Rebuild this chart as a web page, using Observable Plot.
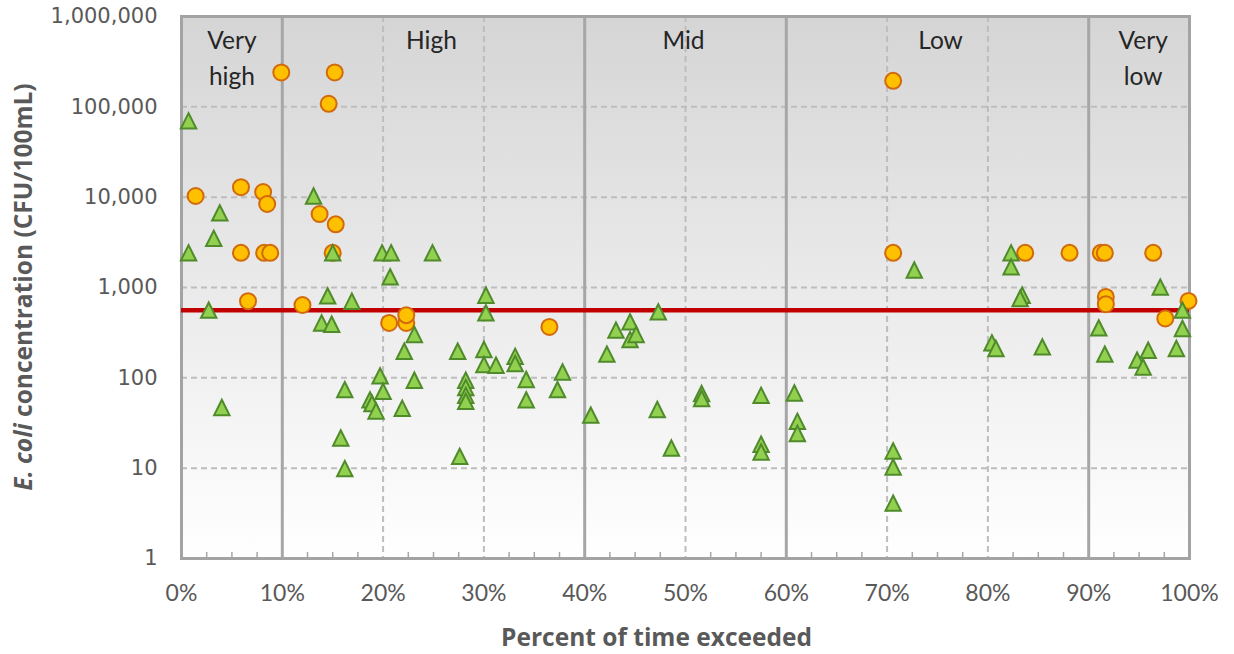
<!DOCTYPE html>
<html>
<head>
<meta charset="utf-8">
<script src="https://cdn.jsdelivr.net/npm/d3@7"></script>
<script src="https://cdn.jsdelivr.net/npm/@observablehq/plot@0.6"></script>
<style>
  html, body { margin: 0; padding: 0; background: #ffffff; }
  #chart svg { display: block; }
</style>
</head>
<body>
<div id="chart"></div>
<script>
// ---- Data (percent of time exceeded, E. coli CFU/100mL) ----
const circlePct = [9.9, 15.2, 14.6, 1.4, 5.9, 8.1, 8.5, 13.7, 15.3, 5.9, 8.2, 8.8, 15.0, 6.6, 12.0, 20.6, 22.3, 22.3, 36.5,
  70.6, 70.6, 83.7, 88.1, 91.2, 91.6, 96.4, 91.7, 91.7, 97.6, 99.9];
const circleVal = [240000, 240000, 108000, 10300, 12900, 11400, 8400, 6500, 5000, 2420, 2420, 2420, 2420, 705, 640, 405, 405, 494, 366,
  194000, 2420, 2420, 2420, 2420, 2420, 2420, 787, 653, 454, 711];

const trianglePct = [0.7, 3.8, 3.2, 0.7, 13.1, 15.0, 19.9, 20.8, 24.9, 20.7, 14.5, 16.9, 2.7, 30.2, 30.2, 13.9, 14.9, 23.1, 22.1, 27.4,
  30.0, 30.0, 31.2, 33.1, 33.1, 34.2, 37.8, 37.3, 19.7, 20.0, 23.1, 16.2, 18.7, 18.9, 19.3, 21.9, 28.2, 28.2, 28.2, 28.2,
  34.2, 4.0, 15.8, 16.2, 27.6, 40.6, 43.1, 44.5, 44.5, 45.1, 42.2, 47.3, 47.2, 48.6, 51.6, 51.6, 57.5, 57.5, 57.5, 60.8,
  61.1, 61.1, 70.6, 70.6, 70.6, 72.7, 82.3, 82.3, 83.4, 83.2, 80.4, 80.8, 85.4, 97.1, 91.0, 91.6, 94.8, 95.4, 95.9, 98.7,
  99.3, 99.3];
const triangleVal = [70000, 6700, 3500, 2420, 10300, 2420, 2420, 2420, 2420, 1310, 807, 705, 561, 822, 523, 405, 392, 302, 197, 197,
  206, 140, 138, 173, 144, 96, 116, 74, 105, 71, 94, 74, 57, 52, 43, 46, 94, 78, 64, 55,
  57, 47, 21.6, 9.9, 13.5, 38.6, 337, 416, 265, 302, 183, 537, 44.6, 16.7, 67, 59, 64, 18.4, 15.1, 68,
  33, 24.2, 15.5, 10.3, 4.1, 1560, 2420, 1690, 822, 755, 244, 211, 220, 1010, 357, 183, 157, 132, 202, 211,
  561, 352];

const threshold = 560;
const zoneNames = ["Very\nhigh", "High", "Mid", "Low", "Very\nlow"];
const zoneCenters = [5.0, 24.8, 49.8, 75.3, 95.4];
const zoneBounds = [10, 40, 60, 90];
const dashedX = [20, 30, 50, 70, 80];
const gridYVals = [10, 100, 1000, 10000, 100000];
const yTicks = [1, 10, 100, 1000, 10000, 100000, 1000000];
const xTicks = [0, 10, 20, 30, 40, 50, 60, 70, 80, 90, 100];
const minorX = [2.5, 5, 7.5, 12.5, 15, 17.5, 22.5, 25, 27.5, 32.5, 35, 37.5, 42.5, 45, 47.5, 52.5, 55, 57.5,
  62.5, 65, 67.5, 72.5, 75, 77.5, 82.5, 85, 87.5, 92.5, 95, 97.5];
const xTitle = "Percent of time exceeded";
const yTitleItalic = "E. coli";
const yTitleRest = " concentration (CFU/100mL)";

const circles = circlePct.map((p, i) => ({p, v: circleVal[i]}));
const triangles = trianglePct.map((p, i) => ({p, v: triangleVal[i]}));
const zones = zoneNames.map((name, i) => ({name, x: zoneCenters[i]}));

// Excel-like triangle marker, centred on its bounding box
const triangleSymbol = {
  draw(context, size) {
    const r = Math.sqrt(size / Math.PI);
    const h = r * 1.35, w = r * 1.35;
    context.moveTo(0, -h);
    context.lineTo(w, h);
    context.lineTo(-w, h);
    context.closePath();
  }
};

function background(index, scales, values, dims) {
  const g = d3.create("svg:g");
  const grad = g.append("defs").append("linearGradient")
    .attr("id", "bg-grad").attr("x1", 0).attr("y1", 0).attr("x2", 0).attr("y2", 1);
  grad.append("stop").attr("offset", "0%").attr("stop-color", "#d5d5d5");
  grad.append("stop").attr("offset", "100%").attr("stop-color", "#ffffff");
  g.append("rect")
    .attr("x", dims.marginLeft).attr("y", dims.marginTop)
    .attr("width", dims.width - dims.marginLeft - dims.marginRight)
    .attr("height", dims.height - dims.marginTop - dims.marginBottom)
    .attr("fill", "url(#bg-grad)");
  return g.node();
}

function yTitleMark(index, scales, values, dims) {
  const cy = (dims.marginTop + dims.height - dims.marginBottom) / 2;
  const t = d3.create("svg:text")
    .attr("transform", `translate(32,${cy}) rotate(-90)`)
    .attr("text-anchor", "middle")
    .attr("font-family", "'Open Sans', Lato, sans-serif")
    .attr("font-size", 24.5)
    .attr("font-weight", "bold")
    .attr("fill", "#595959");
  t.append("tspan").attr("font-style", "italic").text(yTitleItalic);
  t.append("tspan").text(yTitleRest);
  return t.node();
}

const gridStyle = {stroke: "#bdbdbd", strokeOpacity: 1, strokeWidth: 2, strokeDasharray: "6,4"};

const chart = Plot.plot({
  width: 1234,
  height: 654,
  marginTop: 16,
  marginLeft: 181,
  marginRight: 45,
  marginBottom: 96,
  style: {background: "#ffffff"},
  x: {domain: [0, 100]},
  y: {type: "log", domain: [1, 1000000]},
  marks: [
    background,
    Plot.gridY(gridYVals, gridStyle),
    Plot.gridX(dashedX, gridStyle),
    Plot.ruleX(zoneBounds, {stroke: "#a6a6a6", strokeWidth: 3}),
    Plot.tickX(minorX, {x: d => d, stroke: "#a6a6a6", strokeWidth: 1.5, insetTop: 536}),
    Plot.frame({stroke: "#a3a3a3", strokeWidth: 3}),
    Plot.ruleY([threshold], {stroke: "#c00000", strokeWidth: 4.5}),
    Plot.dot(circles, {x: "p", y: "v", r: 8, fill: "#ffc000", stroke: "#d2690c", strokeWidth: 2}),
    Plot.dot(triangles, {x: "p", y: "v", symbol: triangleSymbol, r: 5.7, fill: "#92d050", stroke: "#4f8a2b", strokeWidth: 2}),
    Plot.axisY({ticks: yTicks, tickFormat: d3.format(","), tickSize: 0, tickPadding: 24, label: null,
      fontSize: 21, fontFamily: "'DejaVu Sans', Verdana, sans-serif", color: "#595959"}),
    Plot.axisX({ticks: xTicks, tickFormat: d => d + "%", tickSize: 0, tickPadding: 26, label: null,
      fontSize: 23, fontFamily: "Lato, sans-serif", color: "#595959"}),
    Plot.text(zones, {x: "x", text: "name", frameAnchor: "top", lineAnchor: "top", dy: 7, lineHeight: 1.47,
      fontSize: 24.5, fontFamily: "Lato, sans-serif", fill: "#262626"}),
    Plot.text([xTitle], {text: d => d, frameAnchor: "bottom", lineAnchor: "bottom", dy: 87, dx: -29,
      fontSize: 24.5, fontWeight: "bold", fontFamily: "'Open Sans', Lato, sans-serif", fill: "#595959"}),
    yTitleMark
  ]
});

document.getElementById("chart").appendChild(chart);
</script>
</body>
</html>
